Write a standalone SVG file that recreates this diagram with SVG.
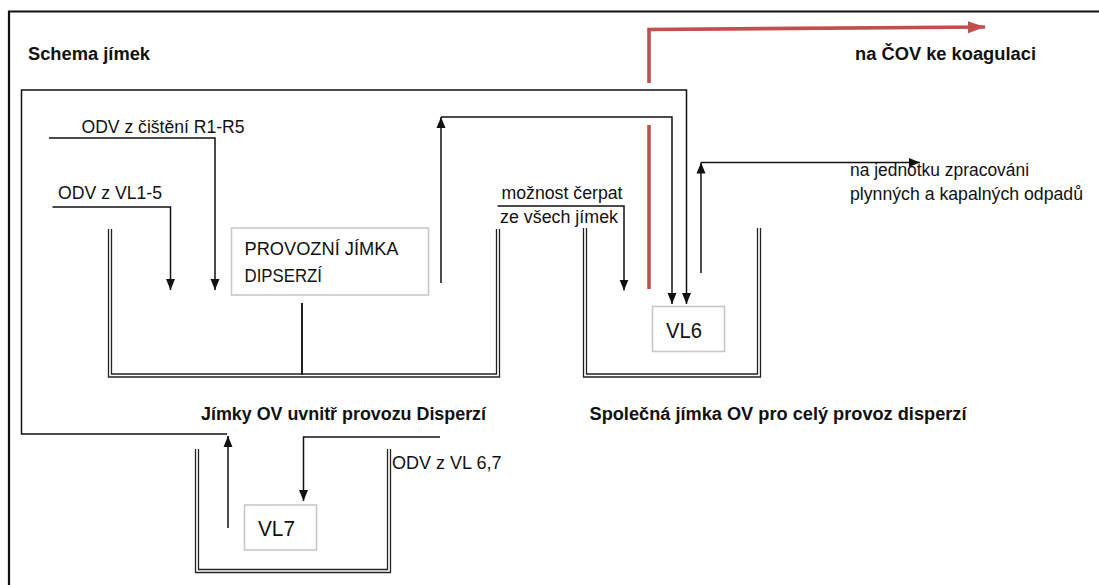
<svg xmlns="http://www.w3.org/2000/svg" width="1099" height="585" viewBox="0 0 1099 585">
<style>
.ln{fill:none;stroke:#111;stroke-width:1.5}
.wall{fill:none;stroke:#222;stroke-width:1.3}
.frame{fill:none;stroke:#111;stroke-width:2.2}
.red{fill:none;stroke:#c0504d;stroke-width:3.6}
.box{fill:#fff;stroke:#c8c8c8;stroke-width:1.6}
.t{font-family:"Liberation Sans",Arial,sans-serif;font-size:17.5px;fill:#111}
.b{font-family:"Liberation Sans",Arial,sans-serif;font-size:18px;font-weight:bold;fill:#111}
.bt{font-family:"Liberation Sans",Arial,sans-serif;font-size:18px;fill:#111}
.vl{font-family:"Liberation Sans",Arial,sans-serif;font-size:22px;fill:#111}
</style>
<defs>
<marker id="ah" markerUnits="userSpaceOnUse" markerWidth="12" markerHeight="12" viewBox="0 0 12 12" refX="11" refY="6" orient="auto">
<path d="M0,1.5 L11,6 L0,10.5 Z" fill="#111"/>
</marker>
<marker id="ahr" markerUnits="userSpaceOnUse" markerWidth="18" markerHeight="16" viewBox="0 0 18 16" refX="17" refY="8" orient="auto">
<path d="M0,2 L17,8 L0,14 Z" fill="#c0504d"/>
</marker>
</defs>
<rect width="1099" height="585" fill="#fff"/>
<g id="frame">
<path class="frame" d="M9,585 L9,11.5 L1099,11.5"/>
</g>
<g id="titles">
<text class="b" x="28" y="60" textLength="122" lengthAdjust="spacingAndGlyphs">Schema jímek</text>
<text class="b" x="855" y="60" textLength="181" lengthAdjust="spacingAndGlyphs">na ČOV ke koagulaci</text>
</g>
<g id="tank-disperze">
<path class="wall" d="M108.5,229 L108.5,377 L499.5,377 L499.5,229"/>
<path class="wall" d="M111.5,229 L111.5,374 L496.5,374 L496.5,229"/>
<line x1="302" y1="303" x2="302" y2="375" stroke="#222" stroke-width="2"/>
<text class="b" x="201" y="420" textLength="285" lengthAdjust="spacingAndGlyphs">Jímky OV uvnitř provozu Disperzí</text>
</g>
<g id="provozni-jimka">
<rect class="box" x="231.5" y="228" width="197" height="67"/>
<text class="bt" x="244.5" y="255" textLength="154" lengthAdjust="spacingAndGlyphs">PROVOZNÍ JÍMKA</text>
<text class="bt" x="244.5" y="282" textLength="77.5" lengthAdjust="spacingAndGlyphs">DIPSERZÍ</text>
</g>
<g id="tank-spolecna">
<path class="wall" d="M583.5,228 L583.5,377 L760.5,377 L760.5,228"/>
<path class="wall" d="M586.5,228 L586.5,374 L757.5,374 L757.5,228"/>
<text class="b" x="589.5" y="420" textLength="377" lengthAdjust="spacingAndGlyphs">Společná jímka OV pro celý provoz disperzí</text>
</g>
<g id="vl6">
<rect class="box" x="652.5" y="306.5" width="72" height="45"/>
<text class="vl" x="666" y="337.5" textLength="36" lengthAdjust="spacingAndGlyphs">VL6</text>
</g>
<g id="tank-vl7">
<path class="wall" d="M195.5,449 L195.5,572.5 L390.5,572.5 L390.5,449"/>
<path class="wall" d="M198.5,449 L198.5,569.5 L387.5,569.5 L387.5,449"/>
</g>
<g id="vl7">
<rect class="box" x="244.5" y="505" width="72" height="45"/>
<text class="vl" x="258" y="536" textLength="37" lengthAdjust="spacingAndGlyphs">VL7</text>
</g>
<g id="labels">
<text class="t" x="81.5" y="133" textLength="163" lengthAdjust="spacingAndGlyphs">ODV z čištění R1-R5</text>
<text class="t" x="58" y="199" textLength="104" lengthAdjust="spacingAndGlyphs">ODV z VL1-5</text>
<text class="t" x="501.5" y="199" textLength="121" lengthAdjust="spacingAndGlyphs">možnost čerpat</text>
<text class="t" x="500" y="223" textLength="118" lengthAdjust="spacingAndGlyphs">ze všech jímek</text>
<text class="t" x="850" y="176" textLength="179" lengthAdjust="spacingAndGlyphs">na jednotku zpracováni</text>
<text class="t" x="850" y="200" textLength="233" lengthAdjust="spacingAndGlyphs">plynných a kapalných odpadů</text>
<text class="t" x="392" y="469" textLength="109.5" lengthAdjust="spacingAndGlyphs">ODV z VL 6,7</text>
</g>
<g id="connectors">
<path class="ln" d="M49,138 L215,138 L215,290" marker-end="url(#ah)"/>
<path class="ln" d="M52.5,207 L170.5,207 L170.5,290" marker-end="url(#ah)"/>
<path class="ln" d="M441,283 L441,117" marker-end="url(#ah)"/>
<path class="ln" d="M441,117 L672,117 L672,304" marker-end="url(#ah)"/>
<path class="ln" d="M497.5,206 L624,206 L624,290.5" marker-end="url(#ah)"/>
<path class="ln" d="M228,528 L228,436" marker-end="url(#ah)"/>
<path class="ln" d="M227,434 L21.5,434 L21.5,90 L686.5,90 L686.5,304" marker-end="url(#ah)"/>
<path class="ln" d="M440,437 L303.5,437 L303.5,501" marker-end="url(#ah)"/>
<path class="ln" d="M701,273 L701,162.5" marker-end="url(#ah)"/>
<path class="ln" d="M701,162.5 L920,162.5" marker-end="url(#ah)"/>
<path class="red" d="M649,83 L649,29.5 L985,27" marker-end="url(#ahr)"/>
<path class="red" d="M649,125 L649,289"/>
</g>
</svg>
